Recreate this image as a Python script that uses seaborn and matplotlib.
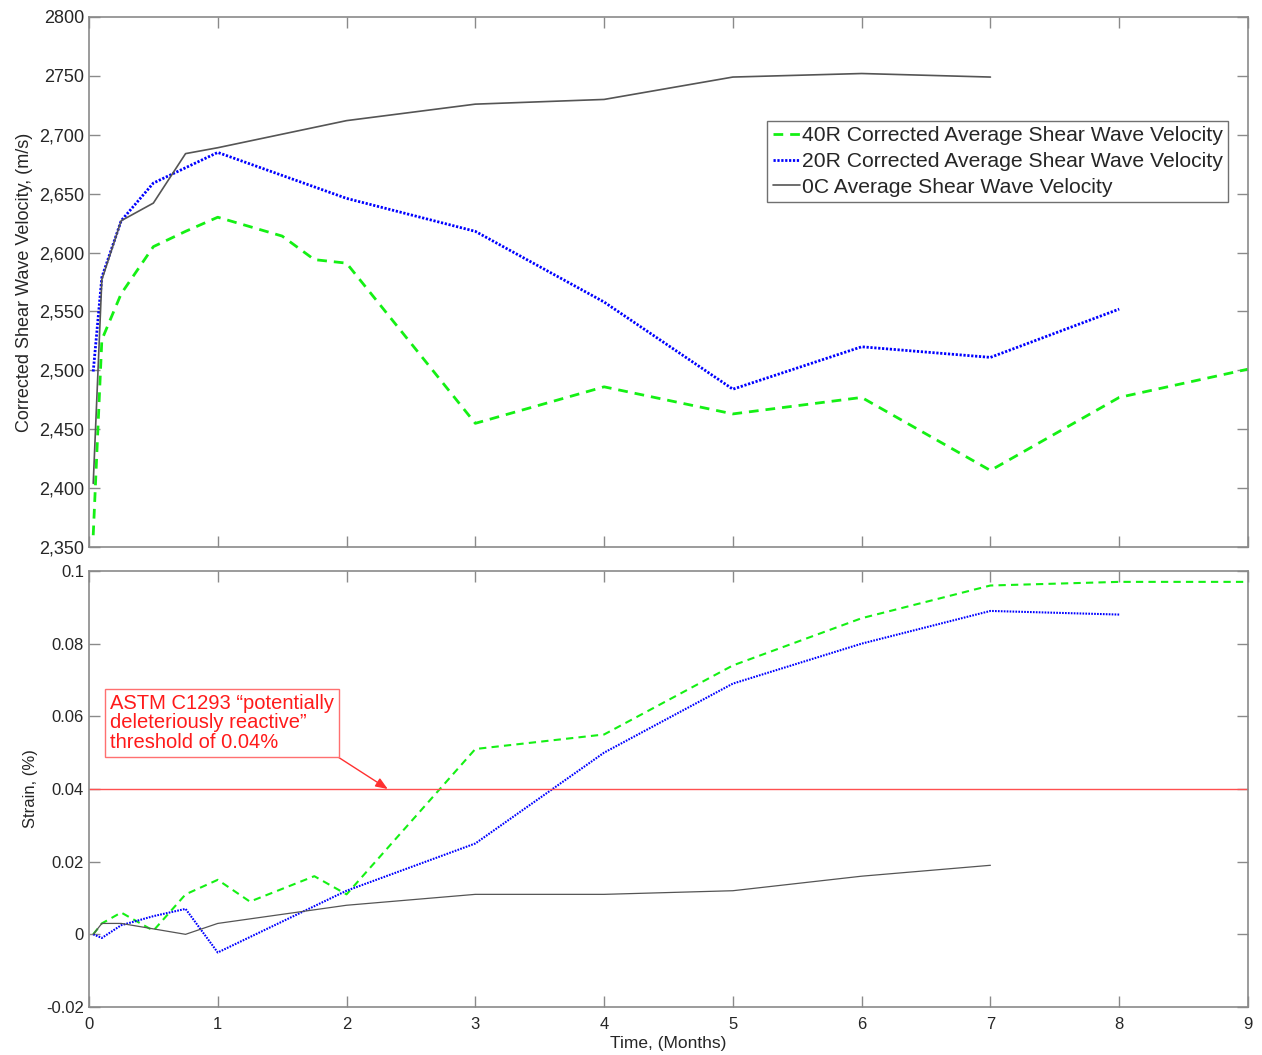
import numpy as np
import pandas as pd
import matplotlib
matplotlib.use("Agg")
import matplotlib.pyplot as plt
import seaborn as sns

# -------------------------------
# Data
# -------------------------------
t_40r = [0.033, 0.1, 0.25, 0.5, 0.75, 1, 1.25, 1.5, 1.75, 2, 3, 4, 5, 6, 7, 8, 9]
vel_40r = [2360, 2526, 2565, 2605, 2618, 2630, 2622, 2614, 2594, 2591,
           2455, 2486, 2463, 2477, 2415, 2477, 2501]
strain_40r = [0, 0.003, 0.006, 0.001, 0.011, 0.015, 0.009, 0.0125, 0.016, 0.011,
              0.051, 0.055, 0.074, 0.087, 0.096, 0.097, 0.097]

t_20r = [0.033, 0.1, 0.25, 0.5, 0.75, 1, 2, 3, 4, 5, 6, 7, 8]
vel_20r = [2499, 2579, 2627, 2659, 2672, 2685, 2646, 2618, 2558, 2484, 2520, 2511, 2552]
strain_20r = [0, -0.001, 0.0025, 0.005, 0.007, -0.005, 0.012, 0.025, 0.050,
              0.069, 0.080, 0.089, 0.088]

t_0c = [0.033, 0.1, 0.25, 0.5, 0.75, 1, 2, 3, 4, 5, 6, 7]
vel_0c = [2404, 2577, 2627, 2642, 2684, 2689, 2712, 2726, 2730, 2749, 2752, 2749]
strain_0c = [0, 0.003, 0.003, 0.0015, 0.0, 0.003, 0.008, 0.011, 0.011, 0.012, 0.016, 0.019]

labels = ["40R Corrected Average Shear Wave Velocity",
          "20R Corrected Average Shear Wave Velocity",
          "0C Average Shear Wave Velocity"]

vel_ticks = [2350, 2400, 2450, 2500, 2550, 2600, 2650, 2700, 2750, 2800]
vel_ticklabels = ["2,350", "2,400", "2,450", "2,500", "2,550", "2,600",
                  "2,650", "2,700", "2750", "2800"]
strain_ticks = [-0.02, 0, 0.02, 0.04, 0.06, 0.08, 0.1]
strain_ticklabels = ["-0.02", "0", "0.02", "0.04", "0.06", "0.08", "0.1"]
month_ticks = list(range(0, 10))

threshold = 0.04
note = "ASTM C1293 \u201cpotentially\ndeleteriously reactive\u201d\nthreshold of 0.04%"

# -------------------------------
# Styling
# -------------------------------
sns.set_style("white")
plt.rcParams["font.family"] = ["Liberation Sans", "DejaVu Sans"]
spine_c = "#8a8a8a"
text_c = "#262626"

styles = [
    dict(color="#14f014", linestyle=(0, (3.5, 2.5)), linewidth=2.0),
    dict(color="#0000ff", linestyle=(0, (0.8, 0.6)), linewidth=2.0),
    dict(color="#555555", linestyle="-", linewidth=1.2),
]

fig = plt.figure(figsize=(12.62, 10.55), dpi=100)
ax1 = fig.add_axes([0.0705, 0.4815, 0.9184, 0.5024])
ax2 = fig.add_axes([0.0705, 0.0455, 0.9184, 0.4133])

# -------------------------------
# Top: shear wave velocity
# -------------------------------
for t, v, lab, st in zip([t_40r, t_20r, t_0c], [vel_40r, vel_20r, vel_0c], labels, styles):
    d = pd.DataFrame({"Time": t, "Value": v})
    sns.lineplot(data=d, x="Time", y="Value", ax=ax1, sort=False, estimator=None,
                 label=lab, **st)

ax1.set_xlim(0, 9)
ax1.set_ylim(2350, 2800)
ax1.set_xticks(month_ticks)
ax1.set_xticklabels([])
ax1.set_yticks(vel_ticks)
ax1.set_yticklabels(vel_ticklabels, fontsize=13)
ax1.set_xlabel("")
ax1.set_ylabel("Corrected Shear Wave Velocity, (m/s)", fontsize=13, color=text_c)

leg = ax1.legend(loc="upper right", bbox_to_anchor=(0.983, 0.804), borderaxespad=0,
                 fontsize=15.2, frameon=True, fancybox=False, framealpha=1,
                 edgecolor="#707070", handlelength=1.3, handletextpad=0.1,
                 labelspacing=0.32, borderpad=0.25)
leg.get_frame().set_linewidth(1.0)
for txt in leg.get_texts():
    txt.set_color(text_c)

# -------------------------------
# Bottom: strain
# -------------------------------
for t, s, st in zip([t_40r, t_20r, t_0c], [strain_40r, strain_20r, strain_0c], styles):
    d = pd.DataFrame({"Time": t, "Value": s})
    sns.lineplot(data=d, x="Time", y="Value", ax=ax2, sort=False, estimator=None,
                 **{**st, "linewidth": st["linewidth"] * 0.75})

ax2.axhline(threshold, color="#ff5050", linewidth=1.0)
ax2.annotate(note, xy=(2.32, threshold), xytext=(0.165, 0.0662),
             textcoords="data", ha="left", va="top", fontsize=14.5, color="#ff1a1a",
             linespacing=1.03,
             bbox=dict(boxstyle="square,pad=0.25", facecolor="white", edgecolor="#ff7070",
                       linewidth=1.0),
             arrowprops=dict(arrowstyle="-|>,head_length=0.5,head_width=0.2",
                             color="#ff3030", linewidth=1.0, relpos=(0.98, 0.0),
                             shrinkA=0, shrinkB=0))

ax2.set_xlim(0, 9)
ax2.set_ylim(-0.02, 0.1)
ax2.set_xticks(month_ticks)
ax2.set_xticklabels([str(m) for m in month_ticks], fontsize=12)
ax2.set_yticks(strain_ticks)
ax2.set_yticklabels(strain_ticklabels, fontsize=12)
ax2.set_xlabel("Time, (Months)", fontsize=12.5, color=text_c, labelpad=3)
ax2.set_ylabel("Strain, (%)", fontsize=12, color=text_c, labelpad=6)
ax2.tick_params(axis="x", pad=7)

for ax in (ax1, ax2):
    for sp in ax.spines.values():
        sp.set_visible(True)
        sp.set_color(spine_c)
        sp.set_linewidth(1.2)
    ax.tick_params(direction="in", length=8, width=1.0, color=spine_c,
                   labelcolor=text_c, top=True, right=True, bottom=True, left=True)

fig.savefig("out.png", dpi=100)
